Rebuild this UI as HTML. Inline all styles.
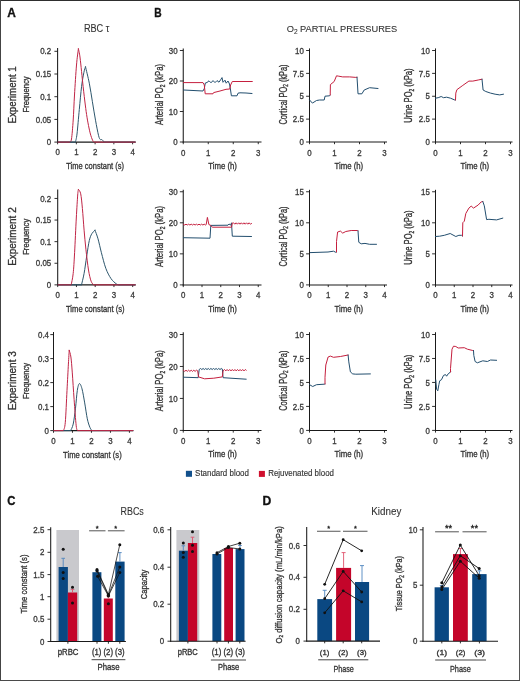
<!DOCTYPE html>
<html><head><meta charset="utf-8"><style>html,body{margin:0;padding:0;background:#fff;}svg text{font-family:"Liberation Sans", sans-serif;stroke:currentColor;stroke-width:0.32px;}</style></head><body>
<svg width="520" height="681" viewBox="0 0 520 681" style="display:block;font-family:'Liberation Sans', sans-serif;filter:blur(0.35px)">
<rect x="0" y="0" width="520" height="681" fill="#fff"/>
<text x="7.2" y="16.8" font-size="12" fill="#111" color="#111" text-anchor="start" font-weight="bold" textLength="8.6" lengthAdjust="spacingAndGlyphs" >A</text>
<text x="154.3" y="16.7" font-size="12" fill="#111" color="#111" text-anchor="start" font-weight="bold" textLength="7.4" lengthAdjust="spacingAndGlyphs" >B</text>
<text x="7.3" y="504.5" font-size="12" fill="#111" color="#111" text-anchor="start" font-weight="bold" textLength="8.2" lengthAdjust="spacingAndGlyphs" >C</text>
<text x="262.4" y="504.5" font-size="12" fill="#111" color="#111" text-anchor="start" font-weight="bold" textLength="8.8" lengthAdjust="spacingAndGlyphs" >D</text>
<text x="83.9" y="31.8" font-size="10" fill="#333" color="#333" text-anchor="start" textLength="25.5" lengthAdjust="spacingAndGlyphs" style="stroke-width:0.1px" >RBC &#964;</text>
<text x="286.7" y="32.3" font-size="9.6" fill="#333" color="#333" text-anchor="start" textLength="110.5" lengthAdjust="spacingAndGlyphs" style="stroke-width:0.1px" >O<tspan font-size="6.8" dy="2">2</tspan><tspan dy="-2"> PARTIAL PRESSURES</tspan></text>
<text x="120.5" y="515.2" font-size="10.2" fill="#333" color="#333" text-anchor="start" textLength="23.3" lengthAdjust="spacingAndGlyphs" style="stroke-width:0.1px" >RBCs</text>
<text x="371.3" y="514.8" font-size="10.2" fill="#333" color="#333" text-anchor="start" textLength="30" lengthAdjust="spacingAndGlyphs" style="stroke-width:0.1px" >Kidney</text>
<line x1="57.6" y1="48" x2="57.6" y2="142.6" stroke="#1a1a1a" stroke-width="1.05" />
<line x1="57.1" y1="142.1" x2="135.6" y2="142.1" stroke="#1a1a1a" stroke-width="1.05" />
<line x1="54.4" y1="142.1" x2="57.6" y2="142.1" stroke="#1a1a1a" stroke-width="0.9" />
<text x="51.2" y="145.27" font-size="8.8" fill="#3a3a3a" color="#3a3a3a" text-anchor="end" textLength="4.4" lengthAdjust="spacingAndGlyphs" >0</text>
<line x1="54.4" y1="119.4" x2="57.6" y2="119.4" stroke="#1a1a1a" stroke-width="0.9" />
<text x="51.2" y="122.57" font-size="8.8" fill="#3a3a3a" color="#3a3a3a" text-anchor="end" textLength="15.41" lengthAdjust="spacingAndGlyphs" >0.05</text>
<line x1="54.4" y1="96.7" x2="57.6" y2="96.7" stroke="#1a1a1a" stroke-width="0.9" />
<text x="51.2" y="99.87" font-size="8.8" fill="#3a3a3a" color="#3a3a3a" text-anchor="end" textLength="11.01" lengthAdjust="spacingAndGlyphs" >0.1</text>
<line x1="54.4" y1="74" x2="57.6" y2="74" stroke="#1a1a1a" stroke-width="0.9" />
<text x="51.2" y="77.17" font-size="8.8" fill="#3a3a3a" color="#3a3a3a" text-anchor="end" textLength="15.41" lengthAdjust="spacingAndGlyphs" >0.15</text>
<line x1="54.4" y1="51.3" x2="57.6" y2="51.3" stroke="#1a1a1a" stroke-width="0.9" />
<text x="51.2" y="54.47" font-size="8.8" fill="#3a3a3a" color="#3a3a3a" text-anchor="end" textLength="11.01" lengthAdjust="spacingAndGlyphs" >0.2</text>
<line x1="57.6" y1="142.1" x2="57.6" y2="144.3" stroke="#1a1a1a" stroke-width="0.9" />
<text x="57.6" y="155.4" font-size="8.8" fill="#3a3a3a" color="#3a3a3a" text-anchor="middle" textLength="4.4" lengthAdjust="spacingAndGlyphs" >0</text>
<line x1="76.35" y1="142.1" x2="76.35" y2="144.3" stroke="#1a1a1a" stroke-width="0.9" />
<text x="76.35" y="155.4" font-size="8.8" fill="#3a3a3a" color="#3a3a3a" text-anchor="middle" textLength="4.4" lengthAdjust="spacingAndGlyphs" >1</text>
<line x1="95.1" y1="142.1" x2="95.1" y2="144.3" stroke="#1a1a1a" stroke-width="0.9" />
<text x="95.1" y="155.4" font-size="8.8" fill="#3a3a3a" color="#3a3a3a" text-anchor="middle" textLength="4.4" lengthAdjust="spacingAndGlyphs" >2</text>
<line x1="113.85" y1="142.1" x2="113.85" y2="144.3" stroke="#1a1a1a" stroke-width="0.9" />
<text x="113.85" y="155.4" font-size="8.8" fill="#3a3a3a" color="#3a3a3a" text-anchor="middle" textLength="4.4" lengthAdjust="spacingAndGlyphs" >3</text>
<line x1="132.6" y1="142.1" x2="132.6" y2="144.3" stroke="#1a1a1a" stroke-width="0.9" />
<text x="132.6" y="155.4" font-size="8.8" fill="#3a3a3a" color="#3a3a3a" text-anchor="middle" textLength="4.4" lengthAdjust="spacingAndGlyphs" >4</text>
<path d="M75.4,142.1 C75.67,140.75 76.35,139.43 77,134 C77.65,128.57 78.53,117.45 79.3,109.5 C80.07,101.55 80.83,92.48 81.6,86.3 C82.37,80.12 83.25,75.65 83.9,72.4 C84.55,69.15 85.23,67.73 85.5,66.8" fill="none" stroke="#2d566c" stroke-width="1" stroke-linejoin="round" stroke-linecap="round"/>
<path d="M85.5,66.8 C86.13,69.53 88.15,77.38 89.3,83.2 C90.45,89.02 91.37,95.53 92.4,101.7 C93.43,107.87 94.47,114.53 95.5,120.2 C96.53,125.87 97.78,132.47 98.6,135.7 C99.42,138.93 99.83,138.95 100.4,139.6 C100.97,140.25 101.4,139.18 102,139.6 C102.6,140.02 103.67,141.68 104,142.1" fill="none" stroke="#2d566c" stroke-width="1" stroke-linejoin="round" stroke-linecap="round"/>
<path d="M69.8,142.1 C70.08,141.58 70.93,142.68 71.5,139 C72.07,135.32 72.7,127.33 73.2,120 C73.7,112.67 73.95,104.17 74.5,95 C75.05,85.83 75.85,72.7 76.5,65 C77.15,57.3 78.08,51.5 78.4,48.8" fill="none" stroke="#c02546" stroke-width="1" stroke-linejoin="round" stroke-linecap="round"/>
<path d="M78.4,48.8 C78.68,50.33 79.32,51.75 80.1,58 C80.88,64.25 82.23,78.47 83.1,86.3 C83.97,94.13 84.65,99.85 85.3,105 C85.95,110.15 86.38,113.37 87,117.2 C87.62,121.03 88.35,124.92 89,128 C89.65,131.08 90.2,133.47 90.9,135.7 C91.6,137.93 92.52,140.33 93.2,141.4 C93.88,142.47 94.7,141.98 95,142.1" fill="none" stroke="#c02546" stroke-width="1" stroke-linejoin="round" stroke-linecap="round"/>
<line x1="57.6" y1="142.1" x2="75.4" y2="142.1" stroke="#2d566c" stroke-width="1" />
<line x1="104" y1="142.1" x2="135.6" y2="142.1" stroke="#2d566c" stroke-width="1" />
<line x1="57.6" y1="142.1" x2="69.8" y2="142.1" stroke="#c02546" stroke-width="1" />
<line x1="95" y1="142.1" x2="135.6" y2="142.1" stroke="#c02546" stroke-width="1" />
<text x="66.3" y="169" font-size="9.8" fill="#333" color="#333" text-anchor="start" textLength="57.7" lengthAdjust="spacingAndGlyphs" >Time constant (s)</text>
<text transform="translate(15.6,94.9) rotate(-90)" x="0" y="0" font-size="10.4" fill="#333" color="#333" text-anchor="middle" textLength="57.3" lengthAdjust="spacingAndGlyphs" >Experiment 1</text>
<text transform="translate(29.1,94.4) rotate(-90)" x="0" y="0" font-size="8.6" fill="#333" color="#333" text-anchor="middle" textLength="36" lengthAdjust="spacingAndGlyphs" >Frequency</text>
<line x1="57.7" y1="189.6" x2="57.7" y2="285.35" stroke="#1a1a1a" stroke-width="1.05" />
<line x1="57.2" y1="284.85" x2="135.6" y2="284.85" stroke="#1a1a1a" stroke-width="1.05" />
<line x1="54.5" y1="284.85" x2="57.7" y2="284.85" stroke="#1a1a1a" stroke-width="0.9" />
<text x="51.2" y="288.02" font-size="8.8" fill="#3a3a3a" color="#3a3a3a" text-anchor="end" textLength="4.4" lengthAdjust="spacingAndGlyphs" >0</text>
<line x1="54.5" y1="263.25" x2="57.7" y2="263.25" stroke="#1a1a1a" stroke-width="0.9" />
<text x="51.2" y="266.42" font-size="8.8" fill="#3a3a3a" color="#3a3a3a" text-anchor="end" textLength="15.41" lengthAdjust="spacingAndGlyphs" >0.05</text>
<line x1="54.5" y1="241.65" x2="57.7" y2="241.65" stroke="#1a1a1a" stroke-width="0.9" />
<text x="51.2" y="244.82" font-size="8.8" fill="#3a3a3a" color="#3a3a3a" text-anchor="end" textLength="11.01" lengthAdjust="spacingAndGlyphs" >0.1</text>
<line x1="54.5" y1="220.05" x2="57.7" y2="220.05" stroke="#1a1a1a" stroke-width="0.9" />
<text x="51.2" y="223.22" font-size="8.8" fill="#3a3a3a" color="#3a3a3a" text-anchor="end" textLength="15.41" lengthAdjust="spacingAndGlyphs" >0.15</text>
<line x1="54.5" y1="198.45" x2="57.7" y2="198.45" stroke="#1a1a1a" stroke-width="0.9" />
<text x="51.2" y="201.62" font-size="8.8" fill="#3a3a3a" color="#3a3a3a" text-anchor="end" textLength="11.01" lengthAdjust="spacingAndGlyphs" >0.2</text>
<line x1="57.7" y1="284.85" x2="57.7" y2="287.05" stroke="#1a1a1a" stroke-width="0.9" />
<text x="57.7" y="298.15" font-size="8.8" fill="#3a3a3a" color="#3a3a3a" text-anchor="middle" textLength="4.4" lengthAdjust="spacingAndGlyphs" >0</text>
<line x1="76.45" y1="284.85" x2="76.45" y2="287.05" stroke="#1a1a1a" stroke-width="0.9" />
<text x="76.45" y="298.15" font-size="8.8" fill="#3a3a3a" color="#3a3a3a" text-anchor="middle" textLength="4.4" lengthAdjust="spacingAndGlyphs" >1</text>
<line x1="95.2" y1="284.85" x2="95.2" y2="287.05" stroke="#1a1a1a" stroke-width="0.9" />
<text x="95.2" y="298.15" font-size="8.8" fill="#3a3a3a" color="#3a3a3a" text-anchor="middle" textLength="4.4" lengthAdjust="spacingAndGlyphs" >2</text>
<line x1="113.95" y1="284.85" x2="113.95" y2="287.05" stroke="#1a1a1a" stroke-width="0.9" />
<text x="113.95" y="298.15" font-size="8.8" fill="#3a3a3a" color="#3a3a3a" text-anchor="middle" textLength="4.4" lengthAdjust="spacingAndGlyphs" >3</text>
<line x1="132.7" y1="284.85" x2="132.7" y2="287.05" stroke="#1a1a1a" stroke-width="0.9" />
<text x="132.7" y="298.15" font-size="8.8" fill="#3a3a3a" color="#3a3a3a" text-anchor="middle" textLength="4.4" lengthAdjust="spacingAndGlyphs" >4</text>
<path d="M81.5,284.85 C81.93,282.94 83.23,278.19 84.1,273.4 C84.97,268.61 85.83,261.58 86.7,256.1 C87.57,250.62 88.43,244.25 89.3,240.5 C90.17,236.75 90.95,235.32 91.9,233.6 C92.85,231.88 94.48,230.77 95,230.2" fill="none" stroke="#2d566c" stroke-width="1" stroke-linejoin="round" stroke-linecap="round"/>
<path d="M95,230.2 C95.5,231.63 96.93,235.05 98,238.8 C99.07,242.55 100.1,247.78 101.4,252.7 C102.7,257.62 104.2,263.98 105.8,268.3 C107.4,272.62 109.27,276.02 111,278.6 C112.73,281.18 114.9,282.76 116.2,283.8 C117.5,284.84 118.37,284.68 118.8,284.85" fill="none" stroke="#2d566c" stroke-width="1" stroke-linejoin="round" stroke-linecap="round"/>
<path d="M71.2,284.85 C71.53,282.94 72.63,278.76 73.2,273.4 C73.77,268.04 74.08,261.93 74.6,252.7 C75.12,243.47 75.78,227.62 76.3,218 C76.82,208.38 77.35,199.77 77.7,195 C78.05,190.23 78.28,190.33 78.4,189.4" fill="none" stroke="#c02546" stroke-width="1" stroke-linejoin="round" stroke-linecap="round"/>
<path d="M78.4,189.4 C78.78,190.13 80.03,190.62 80.7,193.8 C81.37,196.98 81.83,202.43 82.4,208.5 C82.97,214.57 83.52,223.42 84.1,230.2 C84.68,236.98 85.17,242.57 85.9,249.2 C86.63,255.83 87.63,264.67 88.5,270 C89.37,275.33 90.23,278.72 91.1,281.2 C91.97,283.68 93.27,284.24 93.7,284.85" fill="none" stroke="#c02546" stroke-width="1" stroke-linejoin="round" stroke-linecap="round"/>
<line x1="57.7" y1="284.85" x2="81.5" y2="284.85" stroke="#2d566c" stroke-width="1" />
<line x1="118.8" y1="284.85" x2="135.6" y2="284.85" stroke="#2d566c" stroke-width="1" />
<line x1="57.7" y1="284.85" x2="71.2" y2="284.85" stroke="#c02546" stroke-width="1" />
<line x1="93.7" y1="284.85" x2="135.6" y2="284.85" stroke="#c02546" stroke-width="1" />
<text x="66" y="311.75" font-size="9.8" fill="#333" color="#333" text-anchor="start" textLength="58.6" lengthAdjust="spacingAndGlyphs" >Time constant (s)</text>
<text transform="translate(15.6,236.6) rotate(-90)" x="0" y="0" font-size="10.4" fill="#333" color="#333" text-anchor="middle" textLength="58.5" lengthAdjust="spacingAndGlyphs" >Experiment 2</text>
<text transform="translate(29.1,236.8) rotate(-90)" x="0" y="0" font-size="8.6" fill="#333" color="#333" text-anchor="middle" textLength="36" lengthAdjust="spacingAndGlyphs" >Frequency</text>
<line x1="53.5" y1="332" x2="53.5" y2="431.1" stroke="#1a1a1a" stroke-width="1.05" />
<line x1="53" y1="430.6" x2="133.3" y2="430.6" stroke="#1a1a1a" stroke-width="1.05" />
<line x1="50.3" y1="430.6" x2="53.5" y2="430.6" stroke="#1a1a1a" stroke-width="0.9" />
<text x="49" y="433.77" font-size="8.8" fill="#3a3a3a" color="#3a3a3a" text-anchor="end" textLength="4.4" lengthAdjust="spacingAndGlyphs" >0</text>
<line x1="50.3" y1="406.6" x2="53.5" y2="406.6" stroke="#1a1a1a" stroke-width="0.9" />
<text x="49" y="409.77" font-size="8.8" fill="#3a3a3a" color="#3a3a3a" text-anchor="end" textLength="11.01" lengthAdjust="spacingAndGlyphs" >0.1</text>
<line x1="50.3" y1="382.6" x2="53.5" y2="382.6" stroke="#1a1a1a" stroke-width="0.9" />
<text x="49" y="385.77" font-size="8.8" fill="#3a3a3a" color="#3a3a3a" text-anchor="end" textLength="11.01" lengthAdjust="spacingAndGlyphs" >0.2</text>
<line x1="50.3" y1="358.6" x2="53.5" y2="358.6" stroke="#1a1a1a" stroke-width="0.9" />
<text x="49" y="361.77" font-size="8.8" fill="#3a3a3a" color="#3a3a3a" text-anchor="end" textLength="11.01" lengthAdjust="spacingAndGlyphs" >0.3</text>
<line x1="50.3" y1="334.6" x2="53.5" y2="334.6" stroke="#1a1a1a" stroke-width="0.9" />
<text x="49" y="337.77" font-size="8.8" fill="#3a3a3a" color="#3a3a3a" text-anchor="end" textLength="11.01" lengthAdjust="spacingAndGlyphs" >0.4</text>
<line x1="53.5" y1="430.6" x2="53.5" y2="432.8" stroke="#1a1a1a" stroke-width="0.9" />
<text x="53.5" y="443.9" font-size="8.8" fill="#3a3a3a" color="#3a3a3a" text-anchor="middle" textLength="4.4" lengthAdjust="spacingAndGlyphs" >0</text>
<line x1="72.48" y1="430.6" x2="72.48" y2="432.8" stroke="#1a1a1a" stroke-width="0.9" />
<text x="72.48" y="443.9" font-size="8.8" fill="#3a3a3a" color="#3a3a3a" text-anchor="middle" textLength="4.4" lengthAdjust="spacingAndGlyphs" >1</text>
<line x1="91.46" y1="430.6" x2="91.46" y2="432.8" stroke="#1a1a1a" stroke-width="0.9" />
<text x="91.46" y="443.9" font-size="8.8" fill="#3a3a3a" color="#3a3a3a" text-anchor="middle" textLength="4.4" lengthAdjust="spacingAndGlyphs" >2</text>
<line x1="110.44" y1="430.6" x2="110.44" y2="432.8" stroke="#1a1a1a" stroke-width="0.9" />
<text x="110.44" y="443.9" font-size="8.8" fill="#3a3a3a" color="#3a3a3a" text-anchor="middle" textLength="4.4" lengthAdjust="spacingAndGlyphs" >3</text>
<line x1="129.42" y1="430.6" x2="129.42" y2="432.8" stroke="#1a1a1a" stroke-width="0.9" />
<text x="129.42" y="443.9" font-size="8.8" fill="#3a3a3a" color="#3a3a3a" text-anchor="middle" textLength="4.4" lengthAdjust="spacingAndGlyphs" >4</text>
<path d="M70.6,430.6 C71.03,429.52 72.38,427.83 73.2,424.1 C74.02,420.37 74.82,413.8 75.5,408.2 C76.18,402.6 76.65,394.6 77.3,390.5 C77.95,386.4 78.62,383.88 79.4,383.6 C80.18,383.32 81.12,385.58 82,388.8 C82.88,392.02 83.82,397.9 84.7,402.9 C85.58,407.9 86.42,414.68 87.3,418.8 C88.18,422.92 89.2,425.63 90,427.6 C90.8,429.57 91.75,430.1 92.1,430.6" fill="none" stroke="#2d566c" stroke-width="1" stroke-linejoin="round" stroke-linecap="round"/>
<path d="M63.5,430.6 C63.8,429.22 64.72,428.98 65.3,422.3 C65.88,415.62 66.48,400.2 67,390.5 C67.52,380.8 68.03,370.8 68.4,364.1 C68.77,357.4 69.07,352.6 69.2,350.3" fill="none" stroke="#c02546" stroke-width="1" stroke-linejoin="round" stroke-linecap="round"/>
<path d="M69.2,350.3 C69.48,351.42 70.38,353.23 70.9,357 C71.42,360.77 71.77,365.83 72.3,372.9 C72.83,379.97 73.45,390.58 74.1,399.4 C74.75,408.22 75.62,420.6 76.2,425.8 C76.78,431 77.37,429.8 77.6,430.6" fill="none" stroke="#c02546" stroke-width="1" stroke-linejoin="round" stroke-linecap="round"/>
<line x1="53.5" y1="430.6" x2="70.6" y2="430.6" stroke="#2d566c" stroke-width="1" />
<line x1="92.1" y1="430.6" x2="133.3" y2="430.6" stroke="#2d566c" stroke-width="1" />
<line x1="53.5" y1="430.6" x2="63.5" y2="430.6" stroke="#c02546" stroke-width="1" />
<line x1="77.6" y1="430.6" x2="133.3" y2="430.6" stroke="#c02546" stroke-width="1" />
<text x="63.1" y="457.7" font-size="9.8" fill="#333" color="#333" text-anchor="start" textLength="58.6" lengthAdjust="spacingAndGlyphs" >Time constant (s)</text>
<text transform="translate(15.6,380.7) rotate(-90)" x="0" y="0" font-size="10.4" fill="#333" color="#333" text-anchor="middle" textLength="59" lengthAdjust="spacingAndGlyphs" >Experiment 3</text>
<text transform="translate(29.1,381) rotate(-90)" x="0" y="0" font-size="8.6" fill="#333" color="#333" text-anchor="middle" textLength="36" lengthAdjust="spacingAndGlyphs" >Frequency</text>
<line x1="183.25" y1="48.4" x2="183.25" y2="142.5" stroke="#1a1a1a" stroke-width="1.05" />
<line x1="182.75" y1="142" x2="261.5" y2="142" stroke="#1a1a1a" stroke-width="1.05" />
<line x1="179.85" y1="142" x2="183.25" y2="142" stroke="#1a1a1a" stroke-width="0.9" />
<text x="177.55" y="145.17" font-size="8.8" fill="#3a3a3a" color="#3a3a3a" text-anchor="end" textLength="4.4" lengthAdjust="spacingAndGlyphs" >0</text>
<line x1="179.85" y1="111.5" x2="183.25" y2="111.5" stroke="#1a1a1a" stroke-width="0.9" />
<text x="177.55" y="114.67" font-size="8.8" fill="#3a3a3a" color="#3a3a3a" text-anchor="end" textLength="8.81" lengthAdjust="spacingAndGlyphs" >10</text>
<line x1="179.85" y1="81" x2="183.25" y2="81" stroke="#1a1a1a" stroke-width="0.9" />
<text x="177.55" y="84.17" font-size="8.8" fill="#3a3a3a" color="#3a3a3a" text-anchor="end" textLength="8.81" lengthAdjust="spacingAndGlyphs" >20</text>
<line x1="179.85" y1="50.5" x2="183.25" y2="50.5" stroke="#1a1a1a" stroke-width="0.9" />
<text x="177.55" y="53.67" font-size="8.8" fill="#3a3a3a" color="#3a3a3a" text-anchor="end" textLength="8.81" lengthAdjust="spacingAndGlyphs" >30</text>
<line x1="183.25" y1="142" x2="183.25" y2="144.2" stroke="#1a1a1a" stroke-width="0.9" />
<text x="183.25" y="155.6" font-size="8.8" fill="#3a3a3a" color="#3a3a3a" text-anchor="middle" textLength="4.4" lengthAdjust="spacingAndGlyphs" >0</text>
<line x1="208.25" y1="142" x2="208.25" y2="144.2" stroke="#1a1a1a" stroke-width="0.9" />
<text x="208.25" y="155.6" font-size="8.8" fill="#3a3a3a" color="#3a3a3a" text-anchor="middle" textLength="4.4" lengthAdjust="spacingAndGlyphs" >1</text>
<line x1="233.25" y1="142" x2="233.25" y2="144.2" stroke="#1a1a1a" stroke-width="0.9" />
<text x="233.25" y="155.6" font-size="8.8" fill="#3a3a3a" color="#3a3a3a" text-anchor="middle" textLength="4.4" lengthAdjust="spacingAndGlyphs" >2</text>
<line x1="258.25" y1="142" x2="258.25" y2="144.2" stroke="#1a1a1a" stroke-width="0.9" />
<text x="258.25" y="155.6" font-size="8.8" fill="#3a3a3a" color="#3a3a3a" text-anchor="middle" textLength="4.4" lengthAdjust="spacingAndGlyphs" >3</text>
<text x="208.25" y="169" font-size="9.4" fill="#333" color="#333" text-anchor="start" textLength="28.7" lengthAdjust="spacingAndGlyphs" >Time (h)</text>
<line x1="309.5" y1="48.4" x2="309.5" y2="142.5" stroke="#1a1a1a" stroke-width="1.05" />
<line x1="309" y1="142" x2="387" y2="142" stroke="#1a1a1a" stroke-width="1.05" />
<line x1="306.1" y1="142" x2="309.5" y2="142" stroke="#1a1a1a" stroke-width="0.9" />
<text x="303.8" y="145.17" font-size="8.8" fill="#3a3a3a" color="#3a3a3a" text-anchor="end" textLength="4.4" lengthAdjust="spacingAndGlyphs" >0</text>
<line x1="306.1" y1="119.12" x2="309.5" y2="119.12" stroke="#1a1a1a" stroke-width="0.9" />
<text x="303.8" y="122.29" font-size="8.8" fill="#3a3a3a" color="#3a3a3a" text-anchor="end" textLength="11.01" lengthAdjust="spacingAndGlyphs" >2.5</text>
<line x1="306.1" y1="96.25" x2="309.5" y2="96.25" stroke="#1a1a1a" stroke-width="0.9" />
<text x="303.8" y="99.42" font-size="8.8" fill="#3a3a3a" color="#3a3a3a" text-anchor="end" textLength="4.4" lengthAdjust="spacingAndGlyphs" >5</text>
<line x1="306.1" y1="73.38" x2="309.5" y2="73.38" stroke="#1a1a1a" stroke-width="0.9" />
<text x="303.8" y="76.54" font-size="8.8" fill="#3a3a3a" color="#3a3a3a" text-anchor="end" textLength="11.01" lengthAdjust="spacingAndGlyphs" >7.5</text>
<line x1="306.1" y1="50.5" x2="309.5" y2="50.5" stroke="#1a1a1a" stroke-width="0.9" />
<text x="303.8" y="53.67" font-size="8.8" fill="#3a3a3a" color="#3a3a3a" text-anchor="end" textLength="8.81" lengthAdjust="spacingAndGlyphs" >10</text>
<line x1="309.5" y1="142" x2="309.5" y2="144.2" stroke="#1a1a1a" stroke-width="0.9" />
<text x="309.5" y="155.6" font-size="8.8" fill="#3a3a3a" color="#3a3a3a" text-anchor="middle" textLength="4.4" lengthAdjust="spacingAndGlyphs" >0</text>
<line x1="334.5" y1="142" x2="334.5" y2="144.2" stroke="#1a1a1a" stroke-width="0.9" />
<text x="334.5" y="155.6" font-size="8.8" fill="#3a3a3a" color="#3a3a3a" text-anchor="middle" textLength="4.4" lengthAdjust="spacingAndGlyphs" >1</text>
<line x1="359.5" y1="142" x2="359.5" y2="144.2" stroke="#1a1a1a" stroke-width="0.9" />
<text x="359.5" y="155.6" font-size="8.8" fill="#3a3a3a" color="#3a3a3a" text-anchor="middle" textLength="4.4" lengthAdjust="spacingAndGlyphs" >2</text>
<line x1="384.5" y1="142" x2="384.5" y2="144.2" stroke="#1a1a1a" stroke-width="0.9" />
<text x="384.5" y="155.6" font-size="8.8" fill="#3a3a3a" color="#3a3a3a" text-anchor="middle" textLength="4.4" lengthAdjust="spacingAndGlyphs" >3</text>
<text x="334.5" y="169" font-size="9.4" fill="#333" color="#333" text-anchor="start" textLength="28.7" lengthAdjust="spacingAndGlyphs" >Time (h)</text>
<line x1="435.5" y1="48.4" x2="435.5" y2="142.5" stroke="#1a1a1a" stroke-width="1.05" />
<line x1="435" y1="142" x2="512.5" y2="142" stroke="#1a1a1a" stroke-width="1.05" />
<line x1="432.1" y1="142" x2="435.5" y2="142" stroke="#1a1a1a" stroke-width="0.9" />
<text x="429.8" y="145.17" font-size="8.8" fill="#3a3a3a" color="#3a3a3a" text-anchor="end" textLength="4.4" lengthAdjust="spacingAndGlyphs" >0</text>
<line x1="432.1" y1="119.12" x2="435.5" y2="119.12" stroke="#1a1a1a" stroke-width="0.9" />
<text x="429.8" y="122.29" font-size="8.8" fill="#3a3a3a" color="#3a3a3a" text-anchor="end" textLength="11.01" lengthAdjust="spacingAndGlyphs" >2.5</text>
<line x1="432.1" y1="96.25" x2="435.5" y2="96.25" stroke="#1a1a1a" stroke-width="0.9" />
<text x="429.8" y="99.42" font-size="8.8" fill="#3a3a3a" color="#3a3a3a" text-anchor="end" textLength="4.4" lengthAdjust="spacingAndGlyphs" >5</text>
<line x1="432.1" y1="73.38" x2="435.5" y2="73.38" stroke="#1a1a1a" stroke-width="0.9" />
<text x="429.8" y="76.54" font-size="8.8" fill="#3a3a3a" color="#3a3a3a" text-anchor="end" textLength="11.01" lengthAdjust="spacingAndGlyphs" >7.5</text>
<line x1="432.1" y1="50.5" x2="435.5" y2="50.5" stroke="#1a1a1a" stroke-width="0.9" />
<text x="429.8" y="53.67" font-size="8.8" fill="#3a3a3a" color="#3a3a3a" text-anchor="end" textLength="8.81" lengthAdjust="spacingAndGlyphs" >10</text>
<line x1="435.5" y1="142" x2="435.5" y2="144.2" stroke="#1a1a1a" stroke-width="0.9" />
<text x="435.5" y="155.6" font-size="8.8" fill="#3a3a3a" color="#3a3a3a" text-anchor="middle" textLength="4.4" lengthAdjust="spacingAndGlyphs" >0</text>
<line x1="460.5" y1="142" x2="460.5" y2="144.2" stroke="#1a1a1a" stroke-width="0.9" />
<text x="460.5" y="155.6" font-size="8.8" fill="#3a3a3a" color="#3a3a3a" text-anchor="middle" textLength="4.4" lengthAdjust="spacingAndGlyphs" >1</text>
<line x1="485.5" y1="142" x2="485.5" y2="144.2" stroke="#1a1a1a" stroke-width="0.9" />
<text x="485.5" y="155.6" font-size="8.8" fill="#3a3a3a" color="#3a3a3a" text-anchor="middle" textLength="4.4" lengthAdjust="spacingAndGlyphs" >2</text>
<line x1="510.5" y1="142" x2="510.5" y2="144.2" stroke="#1a1a1a" stroke-width="0.9" />
<text x="510.5" y="155.6" font-size="8.8" fill="#3a3a3a" color="#3a3a3a" text-anchor="middle" textLength="4.4" lengthAdjust="spacingAndGlyphs" >3</text>
<text x="460.5" y="169" font-size="9.4" fill="#333" color="#333" text-anchor="start" textLength="28.7" lengthAdjust="spacingAndGlyphs" >Time (h)</text>
<text transform="translate(162.8,94.5) rotate(-90)" x="0" y="0" font-size="10.4" fill="#333" color="#333" text-anchor="middle" textLength="61" lengthAdjust="spacingAndGlyphs" >Arterial PO<tspan font-size="6.6" dy="1.8">2</tspan><tspan dy="-1.8"> (kPa)</tspan></text>
<text transform="translate(286.6,94.5) rotate(-90)" x="0" y="0" font-size="10.4" fill="#333" color="#333" text-anchor="middle" textLength="60.2" lengthAdjust="spacingAndGlyphs" >Cortical PO<tspan font-size="6.6" dy="1.8">2</tspan><tspan dy="-1.8"> (kPa)</tspan></text>
<text transform="translate(412.4,95.6) rotate(-90)" x="0" y="0" font-size="10.4" fill="#333" color="#333" text-anchor="middle" textLength="54.3" lengthAdjust="spacingAndGlyphs" >Urine PO<tspan font-size="6.6" dy="1.8">2</tspan><tspan dy="-1.8"> (kPa)</tspan></text>
<line x1="183.25" y1="189.8" x2="183.25" y2="285.4" stroke="#1a1a1a" stroke-width="1.05" />
<line x1="182.75" y1="284.9" x2="261.5" y2="284.9" stroke="#1a1a1a" stroke-width="1.05" />
<line x1="179.85" y1="284.9" x2="183.25" y2="284.9" stroke="#1a1a1a" stroke-width="0.9" />
<text x="177.55" y="288.07" font-size="8.8" fill="#3a3a3a" color="#3a3a3a" text-anchor="end" textLength="4.4" lengthAdjust="spacingAndGlyphs" >0</text>
<line x1="179.85" y1="253.85" x2="183.25" y2="253.85" stroke="#1a1a1a" stroke-width="0.9" />
<text x="177.55" y="257.02" font-size="8.8" fill="#3a3a3a" color="#3a3a3a" text-anchor="end" textLength="8.81" lengthAdjust="spacingAndGlyphs" >10</text>
<line x1="179.85" y1="222.8" x2="183.25" y2="222.8" stroke="#1a1a1a" stroke-width="0.9" />
<text x="177.55" y="225.97" font-size="8.8" fill="#3a3a3a" color="#3a3a3a" text-anchor="end" textLength="8.81" lengthAdjust="spacingAndGlyphs" >20</text>
<line x1="179.85" y1="191.75" x2="183.25" y2="191.75" stroke="#1a1a1a" stroke-width="0.9" />
<text x="177.55" y="194.92" font-size="8.8" fill="#3a3a3a" color="#3a3a3a" text-anchor="end" textLength="8.81" lengthAdjust="spacingAndGlyphs" >30</text>
<line x1="183.25" y1="284.9" x2="183.25" y2="287.1" stroke="#1a1a1a" stroke-width="0.9" />
<text x="183.25" y="298.2" font-size="8.8" fill="#3a3a3a" color="#3a3a3a" text-anchor="middle" textLength="4.4" lengthAdjust="spacingAndGlyphs" >0</text>
<line x1="202" y1="284.9" x2="202" y2="287.1" stroke="#1a1a1a" stroke-width="0.9" />
<text x="202" y="298.2" font-size="8.8" fill="#3a3a3a" color="#3a3a3a" text-anchor="middle" textLength="4.4" lengthAdjust="spacingAndGlyphs" >1</text>
<line x1="220.75" y1="284.9" x2="220.75" y2="287.1" stroke="#1a1a1a" stroke-width="0.9" />
<text x="220.75" y="298.2" font-size="8.8" fill="#3a3a3a" color="#3a3a3a" text-anchor="middle" textLength="4.4" lengthAdjust="spacingAndGlyphs" >2</text>
<line x1="239.5" y1="284.9" x2="239.5" y2="287.1" stroke="#1a1a1a" stroke-width="0.9" />
<text x="239.5" y="298.2" font-size="8.8" fill="#3a3a3a" color="#3a3a3a" text-anchor="middle" textLength="4.4" lengthAdjust="spacingAndGlyphs" >3</text>
<line x1="258.25" y1="284.9" x2="258.25" y2="287.1" stroke="#1a1a1a" stroke-width="0.9" />
<text x="258.25" y="298.2" font-size="8.8" fill="#3a3a3a" color="#3a3a3a" text-anchor="middle" textLength="4.4" lengthAdjust="spacingAndGlyphs" >4</text>
<text x="208.25" y="311.7" font-size="9.4" fill="#333" color="#333" text-anchor="start" textLength="28.7" lengthAdjust="spacingAndGlyphs" >Time (h)</text>
<line x1="309.5" y1="189.8" x2="309.5" y2="285.4" stroke="#1a1a1a" stroke-width="1.05" />
<line x1="309" y1="284.9" x2="387" y2="284.9" stroke="#1a1a1a" stroke-width="1.05" />
<line x1="306.1" y1="284.9" x2="309.5" y2="284.9" stroke="#1a1a1a" stroke-width="0.9" />
<text x="303.8" y="288.07" font-size="8.8" fill="#3a3a3a" color="#3a3a3a" text-anchor="end" textLength="4.4" lengthAdjust="spacingAndGlyphs" >0</text>
<line x1="306.1" y1="253.85" x2="309.5" y2="253.85" stroke="#1a1a1a" stroke-width="0.9" />
<text x="303.8" y="257.02" font-size="8.8" fill="#3a3a3a" color="#3a3a3a" text-anchor="end" textLength="4.4" lengthAdjust="spacingAndGlyphs" >5</text>
<line x1="306.1" y1="222.8" x2="309.5" y2="222.8" stroke="#1a1a1a" stroke-width="0.9" />
<text x="303.8" y="225.97" font-size="8.8" fill="#3a3a3a" color="#3a3a3a" text-anchor="end" textLength="8.81" lengthAdjust="spacingAndGlyphs" >10</text>
<line x1="306.1" y1="191.75" x2="309.5" y2="191.75" stroke="#1a1a1a" stroke-width="0.9" />
<text x="303.8" y="194.92" font-size="8.8" fill="#3a3a3a" color="#3a3a3a" text-anchor="end" textLength="8.81" lengthAdjust="spacingAndGlyphs" >15</text>
<line x1="309.5" y1="284.9" x2="309.5" y2="287.1" stroke="#1a1a1a" stroke-width="0.9" />
<text x="309.5" y="298.2" font-size="8.8" fill="#3a3a3a" color="#3a3a3a" text-anchor="middle" textLength="4.4" lengthAdjust="spacingAndGlyphs" >0</text>
<line x1="328.25" y1="284.9" x2="328.25" y2="287.1" stroke="#1a1a1a" stroke-width="0.9" />
<text x="328.25" y="298.2" font-size="8.8" fill="#3a3a3a" color="#3a3a3a" text-anchor="middle" textLength="4.4" lengthAdjust="spacingAndGlyphs" >1</text>
<line x1="347" y1="284.9" x2="347" y2="287.1" stroke="#1a1a1a" stroke-width="0.9" />
<text x="347" y="298.2" font-size="8.8" fill="#3a3a3a" color="#3a3a3a" text-anchor="middle" textLength="4.4" lengthAdjust="spacingAndGlyphs" >2</text>
<line x1="365.75" y1="284.9" x2="365.75" y2="287.1" stroke="#1a1a1a" stroke-width="0.9" />
<text x="365.75" y="298.2" font-size="8.8" fill="#3a3a3a" color="#3a3a3a" text-anchor="middle" textLength="4.4" lengthAdjust="spacingAndGlyphs" >3</text>
<line x1="384.5" y1="284.9" x2="384.5" y2="287.1" stroke="#1a1a1a" stroke-width="0.9" />
<text x="384.5" y="298.2" font-size="8.8" fill="#3a3a3a" color="#3a3a3a" text-anchor="middle" textLength="4.4" lengthAdjust="spacingAndGlyphs" >4</text>
<text x="334.5" y="311.7" font-size="9.4" fill="#333" color="#333" text-anchor="start" textLength="28.7" lengthAdjust="spacingAndGlyphs" >Time (h)</text>
<line x1="435.5" y1="189.8" x2="435.5" y2="285.4" stroke="#1a1a1a" stroke-width="1.05" />
<line x1="435" y1="284.9" x2="512.5" y2="284.9" stroke="#1a1a1a" stroke-width="1.05" />
<line x1="432.1" y1="284.9" x2="435.5" y2="284.9" stroke="#1a1a1a" stroke-width="0.9" />
<text x="429.8" y="288.07" font-size="8.8" fill="#3a3a3a" color="#3a3a3a" text-anchor="end" textLength="4.4" lengthAdjust="spacingAndGlyphs" >0</text>
<line x1="432.1" y1="253.85" x2="435.5" y2="253.85" stroke="#1a1a1a" stroke-width="0.9" />
<text x="429.8" y="257.02" font-size="8.8" fill="#3a3a3a" color="#3a3a3a" text-anchor="end" textLength="4.4" lengthAdjust="spacingAndGlyphs" >5</text>
<line x1="432.1" y1="222.8" x2="435.5" y2="222.8" stroke="#1a1a1a" stroke-width="0.9" />
<text x="429.8" y="225.97" font-size="8.8" fill="#3a3a3a" color="#3a3a3a" text-anchor="end" textLength="8.81" lengthAdjust="spacingAndGlyphs" >10</text>
<line x1="432.1" y1="191.75" x2="435.5" y2="191.75" stroke="#1a1a1a" stroke-width="0.9" />
<text x="429.8" y="194.92" font-size="8.8" fill="#3a3a3a" color="#3a3a3a" text-anchor="end" textLength="8.81" lengthAdjust="spacingAndGlyphs" >15</text>
<line x1="435.5" y1="284.9" x2="435.5" y2="287.1" stroke="#1a1a1a" stroke-width="0.9" />
<text x="435.5" y="298.2" font-size="8.8" fill="#3a3a3a" color="#3a3a3a" text-anchor="middle" textLength="4.4" lengthAdjust="spacingAndGlyphs" >0</text>
<line x1="454.25" y1="284.9" x2="454.25" y2="287.1" stroke="#1a1a1a" stroke-width="0.9" />
<text x="454.25" y="298.2" font-size="8.8" fill="#3a3a3a" color="#3a3a3a" text-anchor="middle" textLength="4.4" lengthAdjust="spacingAndGlyphs" >1</text>
<line x1="473" y1="284.9" x2="473" y2="287.1" stroke="#1a1a1a" stroke-width="0.9" />
<text x="473" y="298.2" font-size="8.8" fill="#3a3a3a" color="#3a3a3a" text-anchor="middle" textLength="4.4" lengthAdjust="spacingAndGlyphs" >2</text>
<line x1="491.75" y1="284.9" x2="491.75" y2="287.1" stroke="#1a1a1a" stroke-width="0.9" />
<text x="491.75" y="298.2" font-size="8.8" fill="#3a3a3a" color="#3a3a3a" text-anchor="middle" textLength="4.4" lengthAdjust="spacingAndGlyphs" >3</text>
<line x1="510.5" y1="284.9" x2="510.5" y2="287.1" stroke="#1a1a1a" stroke-width="0.9" />
<text x="510.5" y="298.2" font-size="8.8" fill="#3a3a3a" color="#3a3a3a" text-anchor="middle" textLength="4.4" lengthAdjust="spacingAndGlyphs" >4</text>
<text x="460.5" y="311.7" font-size="9.4" fill="#333" color="#333" text-anchor="start" textLength="28.7" lengthAdjust="spacingAndGlyphs" >Time (h)</text>
<text transform="translate(162.8,236.5) rotate(-90)" x="0" y="0" font-size="10.4" fill="#333" color="#333" text-anchor="middle" textLength="61" lengthAdjust="spacingAndGlyphs" >Arterial PO<tspan font-size="6.6" dy="1.8">2</tspan><tspan dy="-1.8"> (kPa)</tspan></text>
<text transform="translate(286.6,236.5) rotate(-90)" x="0" y="0" font-size="10.4" fill="#333" color="#333" text-anchor="middle" textLength="60.2" lengthAdjust="spacingAndGlyphs" >Cortical PO<tspan font-size="6.6" dy="1.8">2</tspan><tspan dy="-1.8"> (kPa)</tspan></text>
<text transform="translate(412.4,237.6) rotate(-90)" x="0" y="0" font-size="10.4" fill="#333" color="#333" text-anchor="middle" textLength="54.3" lengthAdjust="spacingAndGlyphs" >Urine PO<tspan font-size="6.6" dy="1.8">2</tspan><tspan dy="-1.8"> (kPa)</tspan></text>
<line x1="183.25" y1="332.2" x2="183.25" y2="430.9" stroke="#1a1a1a" stroke-width="1.05" />
<line x1="182.75" y1="430.4" x2="261.5" y2="430.4" stroke="#1a1a1a" stroke-width="1.05" />
<line x1="179.85" y1="430.4" x2="183.25" y2="430.4" stroke="#1a1a1a" stroke-width="0.9" />
<text x="177.55" y="433.57" font-size="8.8" fill="#3a3a3a" color="#3a3a3a" text-anchor="end" textLength="4.4" lengthAdjust="spacingAndGlyphs" >0</text>
<line x1="179.85" y1="398.43" x2="183.25" y2="398.43" stroke="#1a1a1a" stroke-width="0.9" />
<text x="177.55" y="401.6" font-size="8.8" fill="#3a3a3a" color="#3a3a3a" text-anchor="end" textLength="8.81" lengthAdjust="spacingAndGlyphs" >10</text>
<line x1="179.85" y1="366.47" x2="183.25" y2="366.47" stroke="#1a1a1a" stroke-width="0.9" />
<text x="177.55" y="369.63" font-size="8.8" fill="#3a3a3a" color="#3a3a3a" text-anchor="end" textLength="8.81" lengthAdjust="spacingAndGlyphs" >20</text>
<line x1="179.85" y1="334.5" x2="183.25" y2="334.5" stroke="#1a1a1a" stroke-width="0.9" />
<text x="177.55" y="337.67" font-size="8.8" fill="#3a3a3a" color="#3a3a3a" text-anchor="end" textLength="8.81" lengthAdjust="spacingAndGlyphs" >30</text>
<line x1="183.25" y1="430.4" x2="183.25" y2="432.6" stroke="#1a1a1a" stroke-width="0.9" />
<text x="183.25" y="443.6" font-size="8.8" fill="#3a3a3a" color="#3a3a3a" text-anchor="middle" textLength="4.4" lengthAdjust="spacingAndGlyphs" >0</text>
<line x1="208.25" y1="430.4" x2="208.25" y2="432.6" stroke="#1a1a1a" stroke-width="0.9" />
<text x="208.25" y="443.6" font-size="8.8" fill="#3a3a3a" color="#3a3a3a" text-anchor="middle" textLength="4.4" lengthAdjust="spacingAndGlyphs" >1</text>
<line x1="233.25" y1="430.4" x2="233.25" y2="432.6" stroke="#1a1a1a" stroke-width="0.9" />
<text x="233.25" y="443.6" font-size="8.8" fill="#3a3a3a" color="#3a3a3a" text-anchor="middle" textLength="4.4" lengthAdjust="spacingAndGlyphs" >2</text>
<line x1="258.25" y1="430.4" x2="258.25" y2="432.6" stroke="#1a1a1a" stroke-width="0.9" />
<text x="258.25" y="443.6" font-size="8.8" fill="#3a3a3a" color="#3a3a3a" text-anchor="middle" textLength="4.4" lengthAdjust="spacingAndGlyphs" >3</text>
<text x="208.25" y="457.4" font-size="9.4" fill="#333" color="#333" text-anchor="start" textLength="28.7" lengthAdjust="spacingAndGlyphs" >Time (h)</text>
<line x1="309.5" y1="332.2" x2="309.5" y2="430.9" stroke="#1a1a1a" stroke-width="1.05" />
<line x1="309" y1="430.4" x2="387" y2="430.4" stroke="#1a1a1a" stroke-width="1.05" />
<line x1="306.1" y1="430.4" x2="309.5" y2="430.4" stroke="#1a1a1a" stroke-width="0.9" />
<text x="303.8" y="433.57" font-size="8.8" fill="#3a3a3a" color="#3a3a3a" text-anchor="end" textLength="4.4" lengthAdjust="spacingAndGlyphs" >0</text>
<line x1="306.1" y1="406.42" x2="309.5" y2="406.42" stroke="#1a1a1a" stroke-width="0.9" />
<text x="303.8" y="409.59" font-size="8.8" fill="#3a3a3a" color="#3a3a3a" text-anchor="end" textLength="11.01" lengthAdjust="spacingAndGlyphs" >2.5</text>
<line x1="306.1" y1="382.45" x2="309.5" y2="382.45" stroke="#1a1a1a" stroke-width="0.9" />
<text x="303.8" y="385.62" font-size="8.8" fill="#3a3a3a" color="#3a3a3a" text-anchor="end" textLength="4.4" lengthAdjust="spacingAndGlyphs" >5</text>
<line x1="306.1" y1="358.48" x2="309.5" y2="358.48" stroke="#1a1a1a" stroke-width="0.9" />
<text x="303.8" y="361.64" font-size="8.8" fill="#3a3a3a" color="#3a3a3a" text-anchor="end" textLength="11.01" lengthAdjust="spacingAndGlyphs" >7.5</text>
<line x1="306.1" y1="334.5" x2="309.5" y2="334.5" stroke="#1a1a1a" stroke-width="0.9" />
<text x="303.8" y="337.67" font-size="8.8" fill="#3a3a3a" color="#3a3a3a" text-anchor="end" textLength="8.81" lengthAdjust="spacingAndGlyphs" >10</text>
<line x1="309.5" y1="430.4" x2="309.5" y2="432.6" stroke="#1a1a1a" stroke-width="0.9" />
<text x="309.5" y="443.6" font-size="8.8" fill="#3a3a3a" color="#3a3a3a" text-anchor="middle" textLength="4.4" lengthAdjust="spacingAndGlyphs" >0</text>
<line x1="334.5" y1="430.4" x2="334.5" y2="432.6" stroke="#1a1a1a" stroke-width="0.9" />
<text x="334.5" y="443.6" font-size="8.8" fill="#3a3a3a" color="#3a3a3a" text-anchor="middle" textLength="4.4" lengthAdjust="spacingAndGlyphs" >1</text>
<line x1="359.5" y1="430.4" x2="359.5" y2="432.6" stroke="#1a1a1a" stroke-width="0.9" />
<text x="359.5" y="443.6" font-size="8.8" fill="#3a3a3a" color="#3a3a3a" text-anchor="middle" textLength="4.4" lengthAdjust="spacingAndGlyphs" >2</text>
<line x1="384.5" y1="430.4" x2="384.5" y2="432.6" stroke="#1a1a1a" stroke-width="0.9" />
<text x="384.5" y="443.6" font-size="8.8" fill="#3a3a3a" color="#3a3a3a" text-anchor="middle" textLength="4.4" lengthAdjust="spacingAndGlyphs" >3</text>
<text x="334.5" y="457.4" font-size="9.4" fill="#333" color="#333" text-anchor="start" textLength="28.7" lengthAdjust="spacingAndGlyphs" >Time (h)</text>
<line x1="435.5" y1="332.2" x2="435.5" y2="430.9" stroke="#1a1a1a" stroke-width="1.05" />
<line x1="435" y1="430.4" x2="512.5" y2="430.4" stroke="#1a1a1a" stroke-width="1.05" />
<line x1="432.1" y1="430.4" x2="435.5" y2="430.4" stroke="#1a1a1a" stroke-width="0.9" />
<text x="429.8" y="433.57" font-size="8.8" fill="#3a3a3a" color="#3a3a3a" text-anchor="end" textLength="4.4" lengthAdjust="spacingAndGlyphs" >0</text>
<line x1="432.1" y1="406.42" x2="435.5" y2="406.42" stroke="#1a1a1a" stroke-width="0.9" />
<text x="429.8" y="409.59" font-size="8.8" fill="#3a3a3a" color="#3a3a3a" text-anchor="end" textLength="11.01" lengthAdjust="spacingAndGlyphs" >2.5</text>
<line x1="432.1" y1="382.45" x2="435.5" y2="382.45" stroke="#1a1a1a" stroke-width="0.9" />
<text x="429.8" y="385.62" font-size="8.8" fill="#3a3a3a" color="#3a3a3a" text-anchor="end" textLength="4.4" lengthAdjust="spacingAndGlyphs" >5</text>
<line x1="432.1" y1="358.48" x2="435.5" y2="358.48" stroke="#1a1a1a" stroke-width="0.9" />
<text x="429.8" y="361.64" font-size="8.8" fill="#3a3a3a" color="#3a3a3a" text-anchor="end" textLength="11.01" lengthAdjust="spacingAndGlyphs" >7.5</text>
<line x1="432.1" y1="334.5" x2="435.5" y2="334.5" stroke="#1a1a1a" stroke-width="0.9" />
<text x="429.8" y="337.67" font-size="8.8" fill="#3a3a3a" color="#3a3a3a" text-anchor="end" textLength="8.81" lengthAdjust="spacingAndGlyphs" >10</text>
<line x1="435.5" y1="430.4" x2="435.5" y2="432.6" stroke="#1a1a1a" stroke-width="0.9" />
<text x="435.5" y="443.6" font-size="8.8" fill="#3a3a3a" color="#3a3a3a" text-anchor="middle" textLength="4.4" lengthAdjust="spacingAndGlyphs" >0</text>
<line x1="460.5" y1="430.4" x2="460.5" y2="432.6" stroke="#1a1a1a" stroke-width="0.9" />
<text x="460.5" y="443.6" font-size="8.8" fill="#3a3a3a" color="#3a3a3a" text-anchor="middle" textLength="4.4" lengthAdjust="spacingAndGlyphs" >1</text>
<line x1="485.5" y1="430.4" x2="485.5" y2="432.6" stroke="#1a1a1a" stroke-width="0.9" />
<text x="485.5" y="443.6" font-size="8.8" fill="#3a3a3a" color="#3a3a3a" text-anchor="middle" textLength="4.4" lengthAdjust="spacingAndGlyphs" >2</text>
<line x1="510.5" y1="430.4" x2="510.5" y2="432.6" stroke="#1a1a1a" stroke-width="0.9" />
<text x="510.5" y="443.6" font-size="8.8" fill="#3a3a3a" color="#3a3a3a" text-anchor="middle" textLength="4.4" lengthAdjust="spacingAndGlyphs" >3</text>
<text x="460.5" y="457.4" font-size="9.4" fill="#333" color="#333" text-anchor="start" textLength="28.7" lengthAdjust="spacingAndGlyphs" >Time (h)</text>
<text transform="translate(162.8,380.7) rotate(-90)" x="0" y="0" font-size="10.4" fill="#333" color="#333" text-anchor="middle" textLength="61" lengthAdjust="spacingAndGlyphs" >Arterial PO<tspan font-size="6.6" dy="1.8">2</tspan><tspan dy="-1.8"> (kPa)</tspan></text>
<text transform="translate(286.6,380.7) rotate(-90)" x="0" y="0" font-size="10.4" fill="#333" color="#333" text-anchor="middle" textLength="60.2" lengthAdjust="spacingAndGlyphs" >Cortical PO<tspan font-size="6.6" dy="1.8">2</tspan><tspan dy="-1.8"> (kPa)</tspan></text>
<text transform="translate(412.4,381.8) rotate(-90)" x="0" y="0" font-size="10.4" fill="#333" color="#333" text-anchor="middle" textLength="54.3" lengthAdjust="spacingAndGlyphs" >Urine PO<tspan font-size="6.6" dy="1.8">2</tspan><tspan dy="-1.8"> (kPa)</tspan></text>
<path d="M183.4,90 L203,91 L204.3,88.5 L205.3,83 L207,82.5 L209,80.8 L211,82.8 L213,80.6 L215,82.6 L217,80.6 L219,82.2 L221,79.2 L222,77.6 L223,82.3 L225,80.2 L226.2,83.2 L228,81 L229.5,84 L230.4,89 L231.4,95.8 L237,95.8 L238,93.2 L240,92.8 L246,93 L252,93.5" fill="none" stroke="#224e6e" stroke-width="1" stroke-linejoin="round" stroke-linecap="round" />
<path d="M183.4,82.6 L203,82.6 L204.3,85 L205.2,93.8 L213,93.8 L213.6,92.6 L220,91 L226,89.3 L229.8,89 L230.6,85 L232.3,81.5 L252.3,81.5" fill="none" stroke="#c51f3e" stroke-width="1" stroke-linejoin="round" stroke-linecap="round" />
<path d="M309.6,100 L312.4,103.1 L316.5,100.5 L319.6,100 L324.2,100 L325,96.2 L329.6,95.8 L330.2,95" fill="none" stroke="#224e6e" stroke-width="1" stroke-linejoin="round" stroke-linecap="round" />
<path d="M330.2,95 L330.4,84.6 L334.2,81.5 L336.5,75.8 L338.8,76.2 L342.7,76.9 L349.6,76.9 L355.8,77.4 L357,77.2" fill="none" stroke="#c51f3e" stroke-width="1" stroke-linejoin="round" stroke-linecap="round" />
<path d="M357,77.2 L357.5,85 L358,93.8 L361.9,93.8 L364.2,90 L369.6,87.7 L378,88.5" fill="none" stroke="#224e6e" stroke-width="1" stroke-linejoin="round" stroke-linecap="round" />
<path d="M435.4,98.2 L438.2,97.7 L441.2,96.5 L443.5,97.7 L446.6,97.2 L450.5,98.2 L454.8,100 L455.5,100" fill="none" stroke="#224e6e" stroke-width="1" stroke-linejoin="round" stroke-linecap="round" />
<path d="M455.5,100 L455.8,93.1 L456.9,89.7 L462.8,85.4 L468.9,81.1 L472.8,81.1 L478.2,80 L482,79.2" fill="none" stroke="#c51f3e" stroke-width="1" stroke-linejoin="round" stroke-linecap="round" />
<path d="M482,79.2 L483.1,90 L485.8,91.5 L490.5,93.1 L495.1,94.2 L499.7,94.9 L503.5,94.2" fill="none" stroke="#224e6e" stroke-width="1" stroke-linejoin="round" stroke-linecap="round" />
<path d="M183.4,237.7 L210,238.2 L210.8,225.4 L228,225.2 L229,224 L230.8,225.1 L231.5,222.8 L232.3,236.2 L251.5,236.5" fill="none" stroke="#224e6e" stroke-width="1" stroke-linejoin="round" stroke-linecap="round" />
<path d="M183.4,224.2 L184.7,225 L186,224.2 L187.3,225 L188.6,224.2 L189.9,225 L191.2,224.2 L192.5,225 L193.8,224.2 L195.1,225 L196.4,224.2 L197.7,225 L199,224.2 L200.3,225 L201.6,224.2 L202.9,225 L204.2,224.2 L205.5,225 L206.2,224.6 L207.4,217.4 L208.9,224.6 L210.8,225.4 L212.3,227.2 L231.5,227.2 L232.3,223.1 L233.5,222.8 L234.8,224.2 L236.1,222.8 L237.4,224.2 L238.7,222.8 L240,224.2 L241.3,222.8 L242.6,224.2 L243.9,222.8 L245.2,224.2 L246.5,222.8 L247.8,224.2 L249.1,222.8 L250.4,224.2 L251.5,223.5" fill="none" stroke="#c51f3e" stroke-width="1" stroke-linejoin="round" stroke-linecap="round" />
<path d="M310.4,252.6 L328,252 L333.5,251.2 L335.8,252.3 L336.5,252" fill="none" stroke="#224e6e" stroke-width="1" stroke-linejoin="round" stroke-linecap="round" />
<path d="M336.5,252 L336.5,241.5 L337.6,232 L340.4,231.1 L342.7,233.1 L345.8,231.5 L351.2,230.5 L357.3,230.5 L358,230.8" fill="none" stroke="#c51f3e" stroke-width="1" stroke-linejoin="round" stroke-linecap="round" />
<path d="M358,230.8 L358.8,242.3 L361.2,243.8 L365,243.4 L369.6,244.3 L376.5,244.3" fill="none" stroke="#224e6e" stroke-width="1" stroke-linejoin="round" stroke-linecap="round" />
<path d="M435.4,236.5 L439.7,236.2 L444.3,235.3 L450.2,233.5 L455.8,236.5 L458.9,235.3 L461.5,235.3 L462.5,236" fill="none" stroke="#224e6e" stroke-width="1" stroke-linejoin="round" stroke-linecap="round" />
<path d="M462.5,236 L462.8,222.7 L464.3,221.2 L465.8,213.5 L468.9,208.1 L471.2,206.1 L473.5,208.1 L478.2,205 L481.2,201.9 L482.8,201.5" fill="none" stroke="#c51f3e" stroke-width="1" stroke-linejoin="round" stroke-linecap="round" />
<path d="M482.8,201.5 L484.3,205.8 L486.6,219.6 L488.9,219.3 L496.6,219.9 L502.8,218.1" fill="none" stroke="#224e6e" stroke-width="1" stroke-linejoin="round" stroke-linecap="round" />
<path d="M183.4,377.2 L198.2,377.7 L199.2,369.5 L200.5,368.5 L201.8,369.5 L203.1,368.5 L204.4,369.5 L205.7,368.5 L207,369.5 L208.3,368.5 L209.6,369.5 L210.9,368.5 L212.2,369.5 L213.5,368.5 L214.8,369.5 L216.1,368.5 L217.4,369.5 L218.7,368.5 L220,369.5 L221.3,368.5 L222.3,369 L223.1,377.7 L246.2,379.2" fill="none" stroke="#224e6e" stroke-width="1" stroke-linejoin="round" stroke-linecap="round" />
<path d="M183.4,370.2 L184.7,371.4 L186,370.2 L187.3,371.4 L188.6,370.2 L189.9,371.4 L191.2,370.2 L192.5,371.4 L193.8,370.2 L195.1,371.4 L196.4,370.2 L197.7,370.8 L198.5,376.9 L204.6,378.8 L213.8,378.2 L222.3,376.9 L223.1,370.8 L224.5,369.5 L225.8,370.9 L227.1,369.5 L228.4,370.9 L229.7,369.5 L231,370.9 L232.3,369.5 L233.6,370.9 L234.9,369.5 L236.2,370.9 L237.5,369.5 L238.8,370.9 L240.1,369.5 L241.4,370.9 L242.7,369.5 L244,370.9 L245.3,369.5 L246.2,370.2" fill="none" stroke="#c51f3e" stroke-width="1" stroke-linejoin="round" stroke-linecap="round" />
<path d="M309.6,384.7 L312.7,386.5 L316.5,384.7 L324.2,384.2 L325,384" fill="none" stroke="#224e6e" stroke-width="1" stroke-linejoin="round" stroke-linecap="round" />
<path d="M325,384 L325,377.3 L325.8,365 L328.1,357 L330.4,356.1 L333.5,357.3 L340.4,356.5 L348.1,355" fill="none" stroke="#c51f3e" stroke-width="1" stroke-linejoin="round" stroke-linecap="round" />
<path d="M348.1,355 L348.8,361.9 L350.4,371.9 L352.7,373.9 L355.8,374.2 L370.4,373.9" fill="none" stroke="#224e6e" stroke-width="1" stroke-linejoin="round" stroke-linecap="round" />
<path d="M435.8,380 L436.6,389.2 L437.8,390.8 L438.9,384.6 L439.7,380.8 L441.5,379.7 L443.5,375.4 L445.5,374.6 L446.6,376.2 L448.2,373.8 L450.2,372.3 L450.5,372" fill="none" stroke="#224e6e" stroke-width="1" stroke-linejoin="round" stroke-linecap="round" />
<path d="M450.5,372 L450.5,368.5 L452,349.2 L453.5,346.2 L455.8,346.5 L458.2,348 L464.3,347.7 L467.4,349.2 L472.8,350.5 L473.5,350.5" fill="none" stroke="#c51f3e" stroke-width="1" stroke-linejoin="round" stroke-linecap="round" />
<path d="M473.5,350.5 L473.8,355.4 L475.1,361.5 L477.4,362.8 L482.8,360.8 L487.4,361.5 L490.5,360 L496.6,360.3" fill="none" stroke="#224e6e" stroke-width="1" stroke-linejoin="round" stroke-linecap="round" />
<rect x="185.9" y="470.8" width="6.1" height="6" fill="#12508c"/>
<text x="195.1" y="476.2" font-size="8.7" fill="#333" color="#333" text-anchor="start" textLength="53.8" lengthAdjust="spacingAndGlyphs" style="stroke-width:0.15px" >Standard blood</text>
<rect x="258.9" y="470.9" width="6" height="6" fill="#d0102e"/>
<text x="268.2" y="476.2" font-size="8.7" fill="#333" color="#333" text-anchor="start" textLength="65.7" lengthAdjust="spacingAndGlyphs" style="stroke-width:0.15px" >Rejuvenated blood</text>
<rect x="56.4" y="530" width="22.6" height="111.5" fill="#c9c9cd"/>
<rect x="58.6" y="567" width="9.3" height="74.5" fill="#0a4882"/>
<rect x="67.9" y="592.5" width="9.3" height="49" fill="#c4052a"/>
<rect x="92.4" y="572.2" width="9" height="69.3" fill="#0a4882"/>
<rect x="103.8" y="598.5" width="9" height="43" fill="#c4052a"/>
<rect x="115.3" y="561.6" width="9.3" height="79.9" fill="#0a4882"/>
<line x1="63.2" y1="567" x2="63.2" y2="558.3" stroke="#4f86bf" stroke-width="0.9" />
<line x1="61.4" y1="558.3" x2="65" y2="558.3" stroke="#4f86bf" stroke-width="0.9" />
<line x1="72.5" y1="592.5" x2="72.5" y2="589.3" stroke="#e0506a" stroke-width="0.9" />
<line x1="70.7" y1="589.3" x2="74.3" y2="589.3" stroke="#e0506a" stroke-width="0.9" />
<line x1="97" y1="572.2" x2="97" y2="570.5" stroke="#4f86bf" stroke-width="0.9" />
<line x1="95.2" y1="570.5" x2="98.8" y2="570.5" stroke="#4f86bf" stroke-width="0.9" />
<line x1="119.9" y1="561.6" x2="119.9" y2="552.6" stroke="#4f86bf" stroke-width="0.9" />
<line x1="118.1" y1="552.6" x2="121.7" y2="552.6" stroke="#4f86bf" stroke-width="0.9" />
<line x1="108.3" y1="598.5" x2="108.3" y2="596" stroke="#e0506a" stroke-width="0.9" />
<line x1="106.5" y1="596" x2="110.1" y2="596" stroke="#e0506a" stroke-width="0.9" />
<line x1="50.7" y1="527.3" x2="50.7" y2="642" stroke="#1a1a1a" stroke-width="1.05" />
<line x1="50.2" y1="641.5" x2="125.9" y2="641.5" stroke="#1a1a1a" stroke-width="1.05" />
<line x1="47.5" y1="641.5" x2="50.7" y2="641.5" stroke="#1a1a1a" stroke-width="0.9" />
<text x="44.3" y="644.67" font-size="8.8" fill="#3a3a3a" color="#3a3a3a" text-anchor="end" textLength="4.4" lengthAdjust="spacingAndGlyphs" >0</text>
<line x1="47.5" y1="619.2" x2="50.7" y2="619.2" stroke="#1a1a1a" stroke-width="0.9" />
<text x="44.3" y="622.37" font-size="8.8" fill="#3a3a3a" color="#3a3a3a" text-anchor="end" textLength="11.01" lengthAdjust="spacingAndGlyphs" >0.5</text>
<line x1="47.5" y1="596.7" x2="50.7" y2="596.7" stroke="#1a1a1a" stroke-width="0.9" />
<text x="44.3" y="599.87" font-size="8.8" fill="#3a3a3a" color="#3a3a3a" text-anchor="end" textLength="4.4" lengthAdjust="spacingAndGlyphs" >1</text>
<line x1="47.5" y1="574.6" x2="50.7" y2="574.6" stroke="#1a1a1a" stroke-width="0.9" />
<text x="44.3" y="577.77" font-size="8.8" fill="#3a3a3a" color="#3a3a3a" text-anchor="end" textLength="11.01" lengthAdjust="spacingAndGlyphs" >1.5</text>
<line x1="47.5" y1="552.3" x2="50.7" y2="552.3" stroke="#1a1a1a" stroke-width="0.9" />
<text x="44.3" y="555.47" font-size="8.8" fill="#3a3a3a" color="#3a3a3a" text-anchor="end" textLength="4.4" lengthAdjust="spacingAndGlyphs" >2</text>
<line x1="47.5" y1="529.7" x2="50.7" y2="529.7" stroke="#1a1a1a" stroke-width="0.9" />
<text x="44.3" y="532.87" font-size="8.8" fill="#3a3a3a" color="#3a3a3a" text-anchor="end" textLength="11.01" lengthAdjust="spacingAndGlyphs" >2.5</text>
<line x1="67.9" y1="641.5" x2="67.9" y2="643.7" stroke="#1a1a1a" stroke-width="0.9" />
<line x1="97" y1="641.5" x2="97" y2="643.7" stroke="#1a1a1a" stroke-width="0.9" />
<line x1="108.4" y1="641.5" x2="108.4" y2="643.7" stroke="#1a1a1a" stroke-width="0.9" />
<line x1="119.8" y1="641.5" x2="119.8" y2="643.7" stroke="#1a1a1a" stroke-width="0.9" />
<path d="M97,569.5 L108.4,594.5 L119.8,544.7" fill="none" stroke="#111" stroke-width="0.75" stroke-linejoin="round" stroke-linecap="round" />
<circle cx="97" cy="569.5" r="1.5" fill="#111"/>
<circle cx="108.4" cy="594.5" r="1.5" fill="#111"/>
<circle cx="119.8" cy="544.7" r="1.5" fill="#111"/>
<path d="M97,571 L108.4,595.3 L119.8,567" fill="none" stroke="#111" stroke-width="0.75" stroke-linejoin="round" stroke-linecap="round" />
<circle cx="97" cy="571" r="1.5" fill="#111"/>
<circle cx="108.4" cy="595.3" r="1.5" fill="#111"/>
<circle cx="119.8" cy="567" r="1.5" fill="#111"/>
<path d="M97.6,576.3 L108.4,596 L119.8,572.5" fill="none" stroke="#111" stroke-width="0.75" stroke-linejoin="round" stroke-linecap="round" />
<circle cx="97.6" cy="576.3" r="1.5" fill="#111"/>
<circle cx="108.4" cy="596" r="1.5" fill="#111"/>
<circle cx="119.8" cy="572.5" r="1.5" fill="#111"/>
<circle cx="108.4" cy="603.7" r="1.5" fill="#111"/>
<circle cx="63.2" cy="549.3" r="1.5" fill="#111"/>
<circle cx="63.2" cy="572.5" r="1.5" fill="#111"/>
<circle cx="63.2" cy="578.4" r="1.5" fill="#111"/>
<circle cx="72.5" cy="587.2" r="1.5" fill="#111"/>
<circle cx="72.5" cy="602.9" r="1.5" fill="#111"/>
<line x1="89.1" y1="530.8" x2="105.5" y2="530.8" stroke="#555" stroke-width="1" />
<line x1="107.9" y1="530.8" x2="124.6" y2="530.8" stroke="#555" stroke-width="1" />
<text x="97.3" y="530.5" font-size="7.4" fill="#222" color="#222" text-anchor="middle" >*</text>
<text x="115.8" y="530.5" font-size="7.4" fill="#222" color="#222" text-anchor="middle" >*</text>
<text x="57.7" y="654.8" font-size="8.3" fill="#333" color="#333" text-anchor="start" textLength="20.8" lengthAdjust="spacingAndGlyphs" >pRBC</text>
<text x="91.9" y="655.3" font-size="8.2" fill="#333" color="#333" text-anchor="start" textLength="32.7" lengthAdjust="spacingAndGlyphs" >(1) (2) (3)</text>
<line x1="91.6" y1="659.7" x2="125.4" y2="659.7" stroke="#444" stroke-width="1" />
<text x="97.5" y="670.2" font-size="8.4" fill="#333" color="#333" text-anchor="start" textLength="22" lengthAdjust="spacingAndGlyphs" >Phase</text>
<text transform="translate(27.2,584) rotate(-90)" x="0" y="0" font-size="9.4" fill="#333" color="#333" text-anchor="middle" textLength="59" lengthAdjust="spacingAndGlyphs" >Time constant (s)</text>
<rect x="176.4" y="530" width="22.9" height="111.2" fill="#c9c9cd"/>
<rect x="178.9" y="550.7" width="9" height="90.5" fill="#0a4882"/>
<rect x="187.9" y="543" width="9.3" height="98.2" fill="#c4052a"/>
<rect x="212.4" y="554" width="8.9" height="87.2" fill="#0a4882"/>
<rect x="224.2" y="548" width="8.8" height="93.2" fill="#c4052a"/>
<rect x="235.6" y="549.1" width="8.9" height="92.1" fill="#0a4882"/>
<line x1="183.3" y1="550.7" x2="183.3" y2="545.8" stroke="#4f86bf" stroke-width="0.9" />
<line x1="181.5" y1="545.8" x2="185.1" y2="545.8" stroke="#4f86bf" stroke-width="0.9" />
<line x1="192.5" y1="543" x2="192.5" y2="537.2" stroke="#e0506a" stroke-width="0.9" />
<line x1="190.7" y1="537.2" x2="194.3" y2="537.2" stroke="#e0506a" stroke-width="0.9" />
<line x1="240" y1="549.1" x2="240" y2="545.5" stroke="#4f86bf" stroke-width="0.9" />
<line x1="238.2" y1="545.5" x2="241.8" y2="545.5" stroke="#4f86bf" stroke-width="0.9" />
<line x1="170.7" y1="526.9" x2="170.7" y2="641.7" stroke="#1a1a1a" stroke-width="1.05" />
<line x1="170.2" y1="641.2" x2="245.6" y2="641.2" stroke="#1a1a1a" stroke-width="1.05" />
<line x1="167.5" y1="641.2" x2="170.7" y2="641.2" stroke="#1a1a1a" stroke-width="0.9" />
<text x="164.2" y="644.37" font-size="8.8" fill="#3a3a3a" color="#3a3a3a" text-anchor="end" textLength="4.4" lengthAdjust="spacingAndGlyphs" >0</text>
<line x1="167.5" y1="604.2" x2="170.7" y2="604.2" stroke="#1a1a1a" stroke-width="0.9" />
<text x="164.2" y="607.37" font-size="8.8" fill="#3a3a3a" color="#3a3a3a" text-anchor="end" textLength="11.01" lengthAdjust="spacingAndGlyphs" >0.2</text>
<line x1="167.5" y1="567.2" x2="170.7" y2="567.2" stroke="#1a1a1a" stroke-width="0.9" />
<text x="164.2" y="570.37" font-size="8.8" fill="#3a3a3a" color="#3a3a3a" text-anchor="end" textLength="11.01" lengthAdjust="spacingAndGlyphs" >0.4</text>
<line x1="167.5" y1="529.8" x2="170.7" y2="529.8" stroke="#1a1a1a" stroke-width="0.9" />
<text x="164.2" y="532.97" font-size="8.8" fill="#3a3a3a" color="#3a3a3a" text-anchor="end" textLength="11.01" lengthAdjust="spacingAndGlyphs" >0.6</text>
<line x1="187.9" y1="641.2" x2="187.9" y2="643.4" stroke="#1a1a1a" stroke-width="0.9" />
<line x1="217" y1="641.2" x2="217" y2="643.4" stroke="#1a1a1a" stroke-width="0.9" />
<line x1="228.4" y1="641.2" x2="228.4" y2="643.4" stroke="#1a1a1a" stroke-width="0.9" />
<line x1="239.8" y1="641.2" x2="239.8" y2="643.4" stroke="#1a1a1a" stroke-width="0.9" />
<path d="M217,552.7 L228.4,546.5 L239.8,543.2" fill="none" stroke="#111" stroke-width="0.8" stroke-linejoin="round" stroke-linecap="round" />
<circle cx="217" cy="552.7" r="1.5" fill="#111"/>
<circle cx="228.4" cy="546.5" r="1.5" fill="#111"/>
<circle cx="239.8" cy="543.2" r="1.5" fill="#111"/>
<path d="M217,554 L228.4,547.5 L239.8,549" fill="none" stroke="#111" stroke-width="0.8" stroke-linejoin="round" stroke-linecap="round" />
<circle cx="217" cy="554" r="1.5" fill="#111"/>
<circle cx="228.4" cy="547.5" r="1.5" fill="#111"/>
<circle cx="239.8" cy="549" r="1.5" fill="#111"/>
<circle cx="183.3" cy="542.9" r="1.5" fill="#111"/>
<circle cx="183.3" cy="552.4" r="1.5" fill="#111"/>
<circle cx="183.3" cy="557.3" r="1.5" fill="#111"/>
<circle cx="192.5" cy="531.8" r="1.5" fill="#111"/>
<circle cx="192.5" cy="545.3" r="1.5" fill="#111"/>
<circle cx="192.5" cy="551.4" r="1.5" fill="#111"/>
<text x="177.7" y="655.2" font-size="8.2" fill="#333" color="#333" text-anchor="start" textLength="20.1" lengthAdjust="spacingAndGlyphs" >pRBC</text>
<text x="211.7" y="655" font-size="8.2" fill="#333" color="#333" text-anchor="start" textLength="33.3" lengthAdjust="spacingAndGlyphs" >(1) (2) (3)</text>
<line x1="210.9" y1="660" x2="246" y2="660" stroke="#444" stroke-width="1" />
<text x="218" y="670.2" font-size="8.4" fill="#333" color="#333" text-anchor="start" textLength="21.3" lengthAdjust="spacingAndGlyphs" >Phase</text>
<text transform="translate(147.2,584.5) rotate(-90)" x="0" y="0" font-size="8.8" fill="#333" color="#333" text-anchor="middle" textLength="29.4" lengthAdjust="spacingAndGlyphs" >Capacity</text>
<rect x="317.3" y="599.1" width="14.8" height="42" fill="#0a4882"/>
<rect x="336.1" y="567.9" width="15" height="73.2" fill="#c4052a"/>
<rect x="355" y="582" width="14.1" height="59.1" fill="#0a4882"/>
<line x1="324.7" y1="599.1" x2="324.7" y2="590.3" stroke="#4f86bf" stroke-width="0.9" />
<line x1="322.7" y1="590.3" x2="326.7" y2="590.3" stroke="#4f86bf" stroke-width="0.9" />
<line x1="343.6" y1="567.9" x2="343.6" y2="552.6" stroke="#e0506a" stroke-width="0.9" />
<line x1="341.6" y1="552.6" x2="345.6" y2="552.6" stroke="#e0506a" stroke-width="0.9" />
<line x1="362" y1="582" x2="362" y2="565.6" stroke="#4f86bf" stroke-width="0.9" />
<line x1="360" y1="565.6" x2="364" y2="565.6" stroke="#4f86bf" stroke-width="0.9" />
<line x1="306.7" y1="527" x2="306.7" y2="641.6" stroke="#1a1a1a" stroke-width="1.05" />
<line x1="306.2" y1="641.1" x2="380" y2="641.1" stroke="#1a1a1a" stroke-width="1.05" />
<line x1="303.5" y1="641.1" x2="306.7" y2="641.1" stroke="#1a1a1a" stroke-width="0.9" />
<text x="299.8" y="644.27" font-size="8.8" fill="#3a3a3a" color="#3a3a3a" text-anchor="end" textLength="4.4" lengthAdjust="spacingAndGlyphs" >0</text>
<line x1="303.5" y1="609.3" x2="306.7" y2="609.3" stroke="#1a1a1a" stroke-width="0.9" />
<text x="299.8" y="612.47" font-size="8.8" fill="#3a3a3a" color="#3a3a3a" text-anchor="end" textLength="11.01" lengthAdjust="spacingAndGlyphs" >0.2</text>
<line x1="303.5" y1="577.3" x2="306.7" y2="577.3" stroke="#1a1a1a" stroke-width="0.9" />
<text x="299.8" y="580.47" font-size="8.8" fill="#3a3a3a" color="#3a3a3a" text-anchor="end" textLength="11.01" lengthAdjust="spacingAndGlyphs" >0.4</text>
<line x1="303.5" y1="545.5" x2="306.7" y2="545.5" stroke="#1a1a1a" stroke-width="0.9" />
<text x="299.8" y="548.67" font-size="8.8" fill="#3a3a3a" color="#3a3a3a" text-anchor="end" textLength="11.01" lengthAdjust="spacingAndGlyphs" >0.6</text>
<line x1="324.7" y1="641.1" x2="324.7" y2="643.3" stroke="#1a1a1a" stroke-width="0.9" />
<line x1="343.2" y1="641.1" x2="343.2" y2="643.3" stroke="#1a1a1a" stroke-width="0.9" />
<line x1="361.7" y1="641.1" x2="361.7" y2="643.3" stroke="#1a1a1a" stroke-width="0.9" />
<path d="M324.7,584.3 L343.2,539.7 L361.7,550.8" fill="none" stroke="#111" stroke-width="0.9" stroke-linejoin="round" stroke-linecap="round" />
<circle cx="324.7" cy="584.3" r="1.4" fill="#111"/>
<circle cx="343.2" cy="539.7" r="1.4" fill="#111"/>
<circle cx="361.7" cy="550.8" r="1.4" fill="#111"/>
<path d="M324.7,598.7 L343.2,571.4 L361.7,592" fill="none" stroke="#111" stroke-width="0.9" stroke-linejoin="round" stroke-linecap="round" />
<circle cx="324.7" cy="598.7" r="1.4" fill="#111"/>
<circle cx="343.2" cy="571.4" r="1.4" fill="#111"/>
<circle cx="361.7" cy="592" r="1.4" fill="#111"/>
<path d="M324.7,612.8 L343.2,590.8 L361.7,601.9" fill="none" stroke="#111" stroke-width="0.9" stroke-linejoin="round" stroke-linecap="round" />
<circle cx="324.7" cy="612.8" r="1.4" fill="#111"/>
<circle cx="343.2" cy="590.8" r="1.4" fill="#111"/>
<circle cx="361.7" cy="601.9" r="1.4" fill="#111"/>
<line x1="317" y1="531.25" x2="340.5" y2="531.25" stroke="#555" stroke-width="1" />
<line x1="343" y1="531.25" x2="367.5" y2="531.25" stroke="#555" stroke-width="1" />
<text x="328.75" y="530.6" font-size="7.4" fill="#222" color="#222" text-anchor="middle" >*</text>
<text x="355.5" y="530.6" font-size="7.4" fill="#222" color="#222" text-anchor="middle" >*</text>
<text x="324.6" y="655.3" font-size="7.6" fill="#333" color="#333" text-anchor="middle" textLength="9.5" lengthAdjust="spacingAndGlyphs" >(1)</text>
<text x="343.2" y="655.3" font-size="7.6" fill="#333" color="#333" text-anchor="middle" textLength="9.7" lengthAdjust="spacingAndGlyphs" >(2)</text>
<text x="361.8" y="655.3" font-size="7.6" fill="#333" color="#333" text-anchor="middle" textLength="9.5" lengthAdjust="spacingAndGlyphs" >(3)</text>
<line x1="318.2" y1="659.8" x2="368.3" y2="659.8" stroke="#444" stroke-width="1" />
<text x="333.4" y="671.5" font-size="9.8" fill="#333" color="#333" text-anchor="start" textLength="20.4" lengthAdjust="spacingAndGlyphs" >Phase</text>
<text transform="translate(281.8,584.9) rotate(-90)" x="0" y="0" font-size="9.9" fill="#333" color="#333" text-anchor="middle" textLength="117.4" lengthAdjust="spacingAndGlyphs" >O<tspan font-size="6" dy="1.6">2</tspan><tspan dy="-1.6"> diffusion capacity (mL/min/kPa)</tspan></text>
<rect x="434.6" y="587.3" width="14.3" height="53.9" fill="#0a4882"/>
<rect x="453" y="554.1" width="14.8" height="87.1" fill="#c4052a"/>
<rect x="472.2" y="574.1" width="14.4" height="67.1" fill="#0a4882"/>
<line x1="441.8" y1="587.3" x2="441.8" y2="585.5" stroke="#4f86bf" stroke-width="0.9" />
<line x1="439.8" y1="585.5" x2="443.8" y2="585.5" stroke="#4f86bf" stroke-width="0.9" />
<line x1="460.4" y1="554.1" x2="460.4" y2="548.5" stroke="#e0506a" stroke-width="0.9" />
<line x1="458.4" y1="548.5" x2="462.4" y2="548.5" stroke="#e0506a" stroke-width="0.9" />
<line x1="479.4" y1="574.1" x2="479.4" y2="570.8" stroke="#4f86bf" stroke-width="0.9" />
<line x1="477.4" y1="570.8" x2="481.4" y2="570.8" stroke="#4f86bf" stroke-width="0.9" />
<line x1="423" y1="527" x2="423" y2="641.7" stroke="#1a1a1a" stroke-width="1.05" />
<line x1="422.5" y1="641.2" x2="498" y2="641.2" stroke="#1a1a1a" stroke-width="1.05" />
<line x1="419.8" y1="641.2" x2="423" y2="641.2" stroke="#1a1a1a" stroke-width="0.9" />
<text x="417.3" y="644.37" font-size="8.8" fill="#3a3a3a" color="#3a3a3a" text-anchor="end" textLength="4.4" lengthAdjust="spacingAndGlyphs" >0</text>
<line x1="419.8" y1="585.2" x2="423" y2="585.2" stroke="#1a1a1a" stroke-width="0.9" />
<text x="417.3" y="588.37" font-size="8.8" fill="#3a3a3a" color="#3a3a3a" text-anchor="end" textLength="4.4" lengthAdjust="spacingAndGlyphs" >5</text>
<line x1="419.8" y1="529.8" x2="423" y2="529.8" stroke="#1a1a1a" stroke-width="0.9" />
<text x="417.3" y="532.97" font-size="8.8" fill="#3a3a3a" color="#3a3a3a" text-anchor="end" textLength="8.81" lengthAdjust="spacingAndGlyphs" >10</text>
<line x1="441.8" y1="641.2" x2="441.8" y2="643.4" stroke="#1a1a1a" stroke-width="0.9" />
<line x1="460.4" y1="641.2" x2="460.4" y2="643.4" stroke="#1a1a1a" stroke-width="0.9" />
<line x1="479.4" y1="641.2" x2="479.4" y2="643.4" stroke="#1a1a1a" stroke-width="0.9" />
<path d="M441.8,582.8 L460.3,545.1 L479.2,575.7" fill="none" stroke="#111" stroke-width="0.9" stroke-linejoin="round" stroke-linecap="round" />
<circle cx="441.8" cy="582.8" r="1.5" fill="#111"/>
<circle cx="460.3" cy="545.1" r="1.5" fill="#111"/>
<circle cx="479.2" cy="575.7" r="1.5" fill="#111"/>
<path d="M441.8,586.9 L460.3,555.7 L479.2,568.5" fill="none" stroke="#111" stroke-width="0.9" stroke-linejoin="round" stroke-linecap="round" />
<circle cx="441.8" cy="586.9" r="1.5" fill="#111"/>
<circle cx="460.3" cy="555.7" r="1.5" fill="#111"/>
<circle cx="479.2" cy="568.5" r="1.5" fill="#111"/>
<path d="M441.8,589.5 L460.3,561.2 L479.2,578.2" fill="none" stroke="#111" stroke-width="0.9" stroke-linejoin="round" stroke-linecap="round" />
<circle cx="441.8" cy="589.5" r="1.5" fill="#111"/>
<circle cx="460.3" cy="561.2" r="1.5" fill="#111"/>
<circle cx="479.2" cy="578.2" r="1.5" fill="#111"/>
<line x1="435.1" y1="531.8" x2="458.9" y2="531.8" stroke="#555" stroke-width="1" />
<line x1="462.5" y1="531.8" x2="486.6" y2="531.8" stroke="#555" stroke-width="1" />
<text x="448.6" y="531.2" font-size="8.4" fill="#222" color="#222" text-anchor="middle" textLength="7.2" lengthAdjust="spacingAndGlyphs" >**</text>
<text x="474.4" y="531.2" font-size="8.4" fill="#222" color="#222" text-anchor="middle" textLength="7.2" lengthAdjust="spacingAndGlyphs" >**</text>
<text x="441.9" y="655.3" font-size="7.6" fill="#333" color="#333" text-anchor="middle" textLength="10.6" lengthAdjust="spacingAndGlyphs" >(1)</text>
<text x="460.6" y="655.3" font-size="7.6" fill="#333" color="#333" text-anchor="middle" textLength="9.6" lengthAdjust="spacingAndGlyphs" >(2)</text>
<text x="479.6" y="655.3" font-size="7.6" fill="#333" color="#333" text-anchor="middle" textLength="10.8" lengthAdjust="spacingAndGlyphs" >(3)</text>
<line x1="435.2" y1="660" x2="486" y2="660" stroke="#444" stroke-width="1" />
<text x="449.9" y="671.5" font-size="9.8" fill="#333" color="#333" text-anchor="start" textLength="20.9" lengthAdjust="spacingAndGlyphs" >Phase</text>
<text transform="translate(402,583.6) rotate(-90)" x="0" y="0" font-size="9.9" fill="#333" color="#333" text-anchor="middle" textLength="55.2" lengthAdjust="spacingAndGlyphs" >Tissue PO<tspan font-size="6.4" dy="1.7">2</tspan><tspan dy="-1.7"> (kPa)</tspan></text>
<line x1="0" y1="0.5" x2="520" y2="0.5" stroke="#2e2e2e" stroke-width="1" />
<line x1="0.5" y1="0" x2="0.5" y2="681" stroke="#444" stroke-width="1" />
<line x1="519.5" y1="0" x2="519.5" y2="681" stroke="#555" stroke-width="1" />
<line x1="0" y1="680.5" x2="520" y2="680.5" stroke="#4a4a4a" stroke-width="1" />
</svg>
</body></html>
